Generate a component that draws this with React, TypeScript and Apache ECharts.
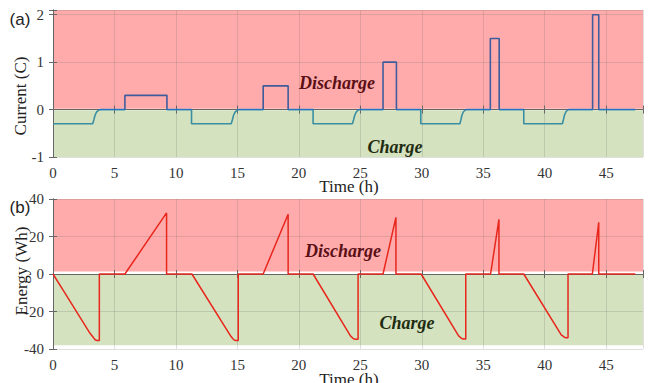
import React, { useEffect, useRef } from "react";
import * as echarts from "echarts";

// Cell current (C-rate) over time
const currentTime = [
  0, 3.23, 3.32, 3.42, 3.55, 3.7, 3.9, 5.85, 5.85, 9.27, 9.27, 11.27, 11.27,
  14.5, 14.59, 14.69, 14.82, 14.97, 15.15, 17.1, 17.1, 19.13, 19.13, 21.16, 21.16,
  24.36, 24.45, 24.55, 24.68, 24.8, 24.96, 26.85, 26.85, 27.94, 27.94, 29.92, 29.92,
  33.1, 33.18, 33.27, 33.38, 33.52, 33.68, 35.58, 35.58, 36.3, 36.3, 38.3, 38.3,
  41.44, 41.52, 41.61, 41.72, 41.84, 41.98, 43.9, 43.9, 44.4, 44.4, 47.37,
];
const currentValue = [
  -0.3, -0.3, -0.22, -0.12, -0.05, -0.015, 0, 0, 0.3, 0.3, 0, 0, -0.3,
  -0.3, -0.22, -0.12, -0.05, -0.015, 0, 0, 0.5, 0.5, 0, 0, -0.3,
  -0.3, -0.22, -0.12, -0.05, -0.015, 0, 0, 1.0, 1.0, 0, 0, -0.3,
  -0.3, -0.22, -0.12, -0.05, -0.015, 0, 0, 1.5, 1.5, 0, 0, -0.3,
  -0.3, -0.22, -0.12, -0.05, -0.015, 0, 0, 2.0, 2.0, 0, 0,
];

// Energy exchanged (Wh) over time
const energyTime = [
  0, 1, 2, 3, 3.3, 3.45, 3.6, 3.77, 3.77, 5.85, 9.24, 9.24, 11.3,
  14.5, 14.7, 14.85, 15.07, 15.07, 17.1, 19.13, 19.13, 21.16,
  24.2, 24.45, 24.6, 24.82, 24.82, 26.85, 27.9, 27.9, 29.95,
  33.0, 33.25, 33.4, 33.58, 33.58, 35.6, 36.28, 36.28, 38.3,
  41.35, 41.6, 41.75, 41.9, 41.9, 43.88, 44.4, 44.4, 47.37,
];
const energyValue = [
  0, -10.5, -21, -31.5, -34, -35.2, -35.5, -35.5, 0, 0, 32.6, 0, 0,
  -33.5, -35, -35.5, -35.5, 0, 0, 31.9, 0, 0,
  -33, -34.5, -34.8, -34.8, 0, 0, 30.2, 0, 0,
  -33, -34.4, -34.7, -34.7, 0, 0, 29.1, 0, 0,
  -32.5, -33.7, -34, -34, 0, 0, 27.5, 0, 0,
];

// Tick labels shown on the two scales
const xTickLabels = ["0", "5", "10", "15", "20", "25", "30", "35", "40", "45"];
const currentTickLabels = ["-1", "0", "1", "2"];
const energyTickLabels = ["-40", "-20", "0", "20", "40"];

const SERIF = "'Times New Roman', 'Liberation Serif', serif";
const SANS = "'Liberation Sans', Arial, sans-serif";
const RED_FILL = "#ffabab";
const GREEN_FILL = "#d4e2bf";
const AXIS_COLOR = "#666";
const GRID_COLOR = "rgba(110,110,110,0.22)";

function xAxisDef(gridIndex: number, position: "top" | "bottom", labels: boolean) {
  return {
    type: "value",
    gridIndex,
    position,
    min: 0,
    max: 48,
    interval: 5,
    z: 3,
    axisLine: { show: true, lineStyle: { color: AXIS_COLOR, width: 1 } },
    axisTick: { show: true, inside: true, length: 4, lineStyle: { color: AXIS_COLOR } },
    axisLabel: {
      show: labels,
      margin: 8,
      formatter: (v: number) => (xTickLabels.includes(String(v)) ? `{t|${v}}` : ""),
      rich: { t: { fontFamily: SERIF, fontSize: 15, color: "#333" } },
    },
    splitLine: { show: labels, lineStyle: { color: GRID_COLOR, width: 1 } },
  };
}

function yAxisDef(
  gridIndex: number,
  position: "left" | "right",
  labels: boolean,
  min: number,
  max: number,
  interval: number,
  tickLabels: string[]
) {
  return {
    type: "value",
    gridIndex,
    position,
    min,
    max,
    interval,
    z: 3,
    axisLine: { show: true, lineStyle: { color: AXIS_COLOR, width: 1 } },
    axisTick: { show: true, inside: true, length: 4, lineStyle: { color: AXIS_COLOR } },
    axisLabel: {
      show: labels,
      margin: 9,
      formatter: (v: number) => (tickLabels.includes(String(v)) ? `{t|${v}}` : ""),
      rich: { t: { fontFamily: SERIF, fontSize: 15, color: "#333" } },
    },
    splitLine: { show: labels, lineStyle: { color: GRID_COLOR, width: 1 } },
  };
}

function label(text: string, x: number, y: number, opts: any = {}) {
  return {
    type: "text",
    x,
    y,
    z: 10,
    rotation: opts.rotation || 0,
    style: {
      text,
      fill: opts.color || "#222",
      fontFamily: opts.family || SERIF,
      fontSize: opts.size || 17,
      fontStyle: opts.style || "normal",
      fontWeight: opts.weight || "normal",
      textAlign: "center",
      textVerticalAlign: "middle",
    },
  };
}

export default function App() {
  const ref = useRef<HTMLDivElement>(null);

  useEffect(() => {
    if (!ref.current) return;
    const chart = echarts.init(ref.current, null, { renderer: "svg" });

    const currentData = currentTime.map((t, i) => [t, currentValue[i]]);
    const energyData = energyTime.map((t, i) => [t, energyValue[i]]);

    chart.setOption({
      animation: false,
      backgroundColor: "#fff",
      textStyle: { fontFamily: SERIF },
      grid: [
        { left: 53, top: 10, width: 590, height: 147 },
        { left: 53, top: 199, width: 590, height: 150 },
      ],
      xAxis: [
        xAxisDef(0, "bottom", true),
        xAxisDef(0, "top", false),
        xAxisDef(1, "bottom", true),
        xAxisDef(1, "top", false),
      ],
      yAxis: [
        yAxisDef(0, "left", true, -1, 2.1, 1, currentTickLabels),
        yAxisDef(0, "right", false, -1, 2.1, 1, currentTickLabels),
        yAxisDef(1, "left", true, -40, 40, 20, energyTickLabels),
        yAxisDef(1, "right", false, -40, 40, 20, energyTickLabels),
      ],
      visualMap: [
        {
          type: "piecewise",
          show: false,
          seriesIndex: 1,
          dimension: 1,
          pieces: [
            { lt: -0.004, color: "#3a8fa2" },
            { gte: -0.004, lte: 0.004, color: "#1f72c4" },
            { gt: 0.004, color: "#3f5c9c" },
          ],
        },
      ],
      series: [
        {
          type: "line",
          xAxisIndex: 0,
          yAxisIndex: 0,
          data: [],
          z: 1,
          silent: true,
          markArea: {
            silent: true,
            data: [
              [{ coord: [0, 0.02], itemStyle: { color: RED_FILL } }, { coord: [48, 2.1] }],
              [{ coord: [0, -1], itemStyle: { color: GREEN_FILL } }, { coord: [48, -0.015] }],
            ],
          },
        },
        {
          type: "line",
          xAxisIndex: 0,
          yAxisIndex: 0,
          data: currentData,
          showSymbol: false,
          z: 5,
          lineStyle: { width: 1.6 },
        },
        {
          type: "line",
          xAxisIndex: 2,
          yAxisIndex: 2,
          data: [],
          z: 1,
          silent: true,
          markArea: {
            silent: true,
            data: [
              [{ coord: [0, 1.3], itemStyle: { color: RED_FILL } }, { coord: [48, 40] }],
              [{ coord: [0, -38], itemStyle: { color: GREEN_FILL } }, { coord: [48, 0] }],
            ],
          },
        },
        {
          type: "line",
          xAxisIndex: 2,
          yAxisIndex: 2,
          data: energyData,
          showSymbol: false,
          z: 5,
          lineStyle: { width: 1.5, color: "#e8261c" },
          itemStyle: { color: "#e8261c" },
        },
      ],
      graphic: [
        label("(a)", 20, 19, { family: SANS, size: 17 }),
        label("(b)", 20, 207, { family: SANS, size: 17 }),
        label("Current (C)", 20, 96, { rotation: Math.PI / 2, size: 17 }),
        label("Energy (Wh)", 21, 271, { rotation: Math.PI / 2, size: 17 }),
        label("Time (h)", 349, 186, { size: 17 }),
        label("Time (h)", 349, 379, { size: 17 }),
        label("Discharge", 337, 83, { style: "italic", weight: "bold", size: 18, color: "#5a1016" }),
        label("Discharge", 343, 251, { style: "italic", weight: "bold", size: 18, color: "#5a1016" }),
        label("Charge", 395, 147, { style: "italic", weight: "bold", size: 18, color: "#1f2c12" }),
        label("Charge", 407, 323, { style: "italic", weight: "bold", size: 18, color: "#1f2c12" }),
      ],
    });

    return () => chart.dispose();
  }, []);

  return (
    <div
      ref={ref}
      style={{ position: "fixed", left: 0, top: 0, width: 650, height: 383 }}
    />
  );
}
